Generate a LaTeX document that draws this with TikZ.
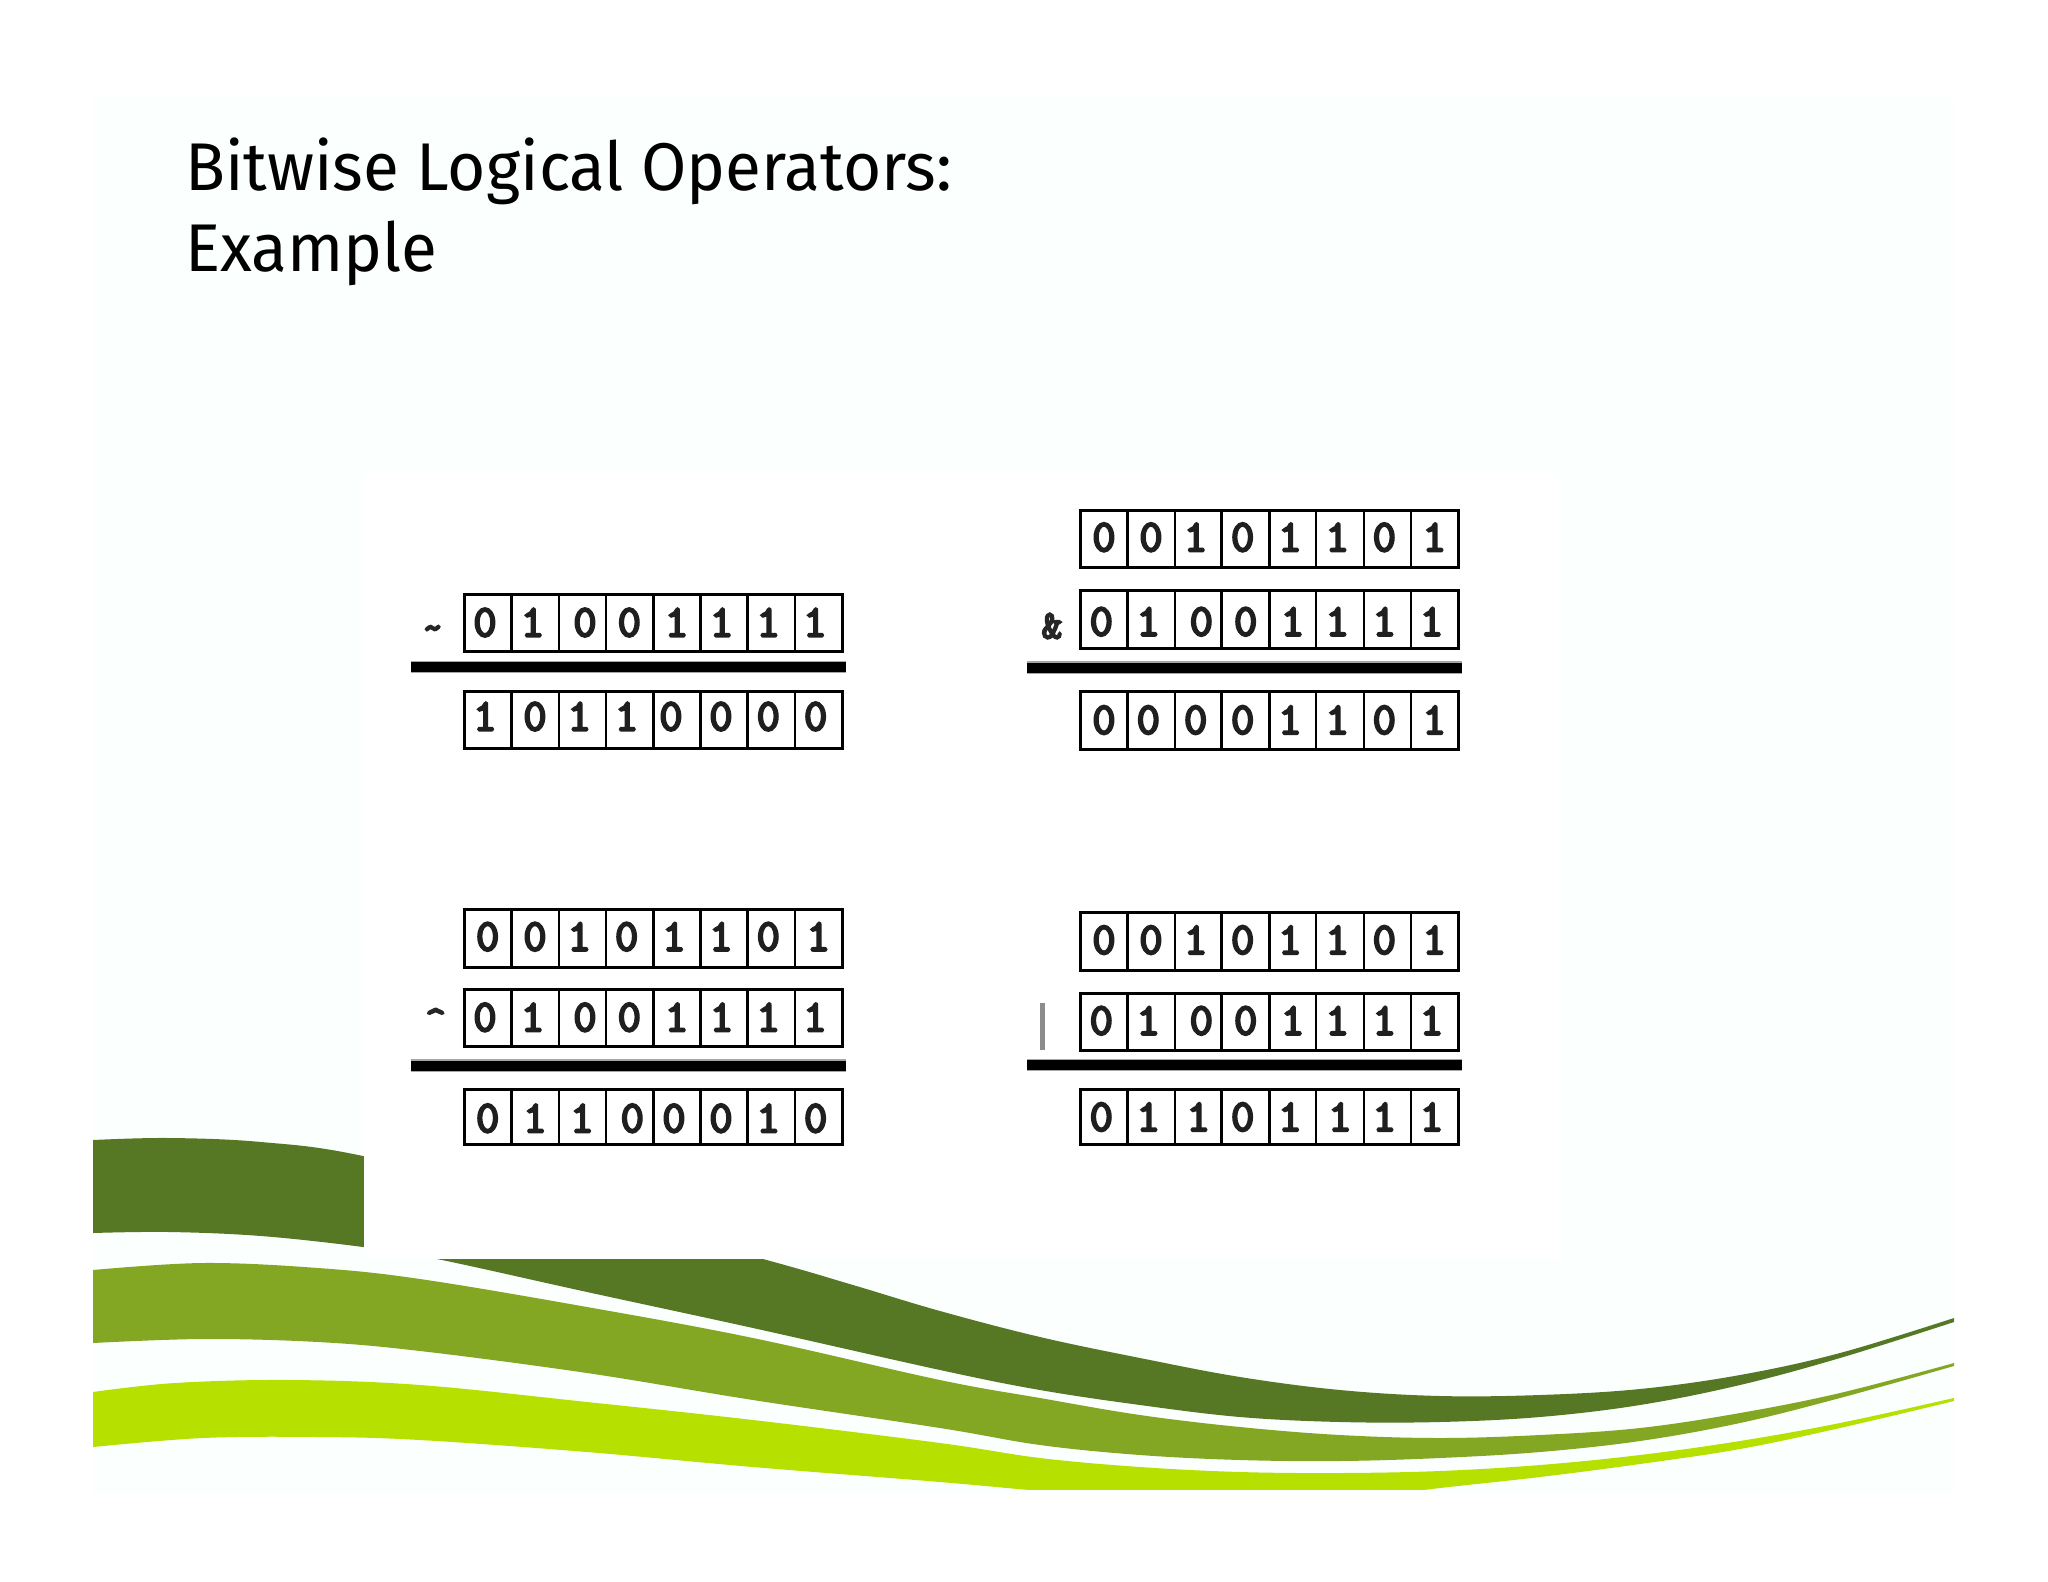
\documentclass[tikz,border=0pt]{standalone}
\usepackage{graphicx}
\usepackage{fontspec}
\newfontfamily\titlefont{Fira Sans}
\newfontfamily\digitfont[FakeBold=5]{Latin Modern Mono}
\definecolor{slidetint}{HTML}{FBFFFE}
\definecolor{banddark}{HTML}{567723}
\definecolor{bandmid}{HTML}{84A723}
\definecolor{bandlight}{HTML}{B5E000}
\tikzset{
  bitbox/.style={draw=black,line width=3pt,fill=white},
  bitdiv/.style={draw=black,line width=2.8pt},
  bitdigit/.style={inner sep=0pt,font=\digitfont\fontsize{45}{45}\selectfont,text=black!88},
  oprule/.style={line width=10pt,draw=black},
  ophalo/.style={line width=12.5pt,draw=black!35},
  opsign/.style={inner sep=0pt,font=\digitfont\fontsize{40}{40}\selectfont,text=black!85},
  titletext/.style={inner sep=0pt,anchor=base west,font=\titlefont\fontsize{67.5}{70}\selectfont,text=black},
  bandcurve/.style={smooth,tension=0.6},
}
% name, x origin, box left px, box right px, top, bottom, digit y, divider px list, digit/px list
\newcommand{\bitrow}[9]{%
  \draw[bitbox] ({#2+#3/3},#5) rectangle ({#2+#4/3},#6);
  \foreach \BRdiv in #8 {\draw[bitdiv] ({#2+\BRdiv/3},#5) -- ({#2+\BRdiv/3},#6);}
  \foreach \BRbit/\BRpos [count=\BRnum] in {#9} {\node[bitdigit] (#1-\BRnum) at ({#2+\BRpos/3},#7) {\BRbit};}
}
\newcommand{\opbar}[3]{%
  \draw[ophalo] (#1,#3) -- (#2,#3);
  \draw[oprule] (#1,#3) -- (#2,#3);
}
\begin{document}
\begin{tikzpicture}[x=1pt,y=-1pt]
\useasboundingbox (0,0) rectangle (2048,1582);
\fill[white] (0,0) rectangle (2048,1582);
\fill[slidetint] (93,97) rectangle (1954,1494);
\begin{scope}
\clip (93,97) rectangle (1954,1489);
\fill[banddark] plot[bandcurve] coordinates {(93,1140) (169,1138) (261,1142) (363,1156) (560,1205) (763,1259) (853,1285) (940,1311) (1040,1337) (1140,1358) (1240,1377) (1340,1390) (1440,1396) (1540,1395) (1640,1389) (1740,1375) (1840,1353) (1954,1318)}
  -- plot[bandcurve] coordinates {(1954,1322) (1840,1358) (1740,1385) (1640,1405) (1540,1417) (1440,1422) (1340,1422) (1240,1417) (1140,1405) (1040,1390) (940,1370) (753,1328) (587,1292) (437,1259) (363,1247) (261,1236) (169,1232) (93,1233)} -- cycle;
\fill[bandmid] plot[bandcurve] coordinates {(93,1270) (203,1263) (318,1268) (420,1279) (587,1307) (753,1338) (940,1380) (1040,1398) (1140,1415) (1240,1427) (1340,1435) (1440,1438) (1540,1435) (1640,1428) (1740,1413) (1840,1393) (1954,1363)}
  -- plot[bandcurve] coordinates {(1954,1366) (1840,1398) (1740,1423) (1640,1441) (1540,1452) (1440,1458) (1340,1461) (1240,1460) (1140,1455) (1040,1445) (940,1428) (753,1400) (587,1373) (420,1351) (318,1342) (203,1339) (93,1343)} -- cycle;
\fill[bandlight] plot[bandcurve] coordinates {(93,1392) (175,1383) (290,1380) (420,1385) (587,1402) (753,1420) (940,1443) (1040,1458) (1140,1467) (1240,1472) (1340,1473) (1440,1471) (1540,1465) (1640,1455) (1740,1441) (1840,1423) (1954,1398)}
  -- plot[bandcurve] coordinates {(1954,1401) (1840,1428) (1740,1449) (1640,1464) (1540,1477) (1440,1488) (1340,1500) (1200,1505) (1040,1491) (940,1482) (753,1467) (587,1452) (420,1440) (318,1437) (203,1438) (93,1447)} -- cycle;
\end{scope}
\fill[white] (364,472) rectangle (1559,1259);

\node[titletext] (title1) at (185,190) {\scalebox{.973}[1]{Bitwise Logical Operators:}};
\node[titletext] (title2) at (185,271.5) {\scalebox{.973}[1]{Example}};

% NOT
\bitrow{na}{380}{253}{1388}{594}{651}{622.5}{{395,537,678,820,962,1103,1245}}{0/315,1/458,0/615,0/748,1/890,1/1025,1/1165,1/1305}
\opbar{411}{846}{667}
\bitrow{nr}{380}{253}{1388}{691.5}{748.5}{716.5}{{395,537,678,820,962,1103,1245}}{1/315,0/465,1/598,1/740,0/873,0/1023,0/1165,0/1307}
\node[opsign] (opnot) at (432.7,633) {\char`\~};

% AND
\bitrow{aa}{1000}{240}{1376}{510}{567.5}{537.3}{{383,525,665,808,948,1092,1233}}{0/312,0/453,1/587,0/728,1/870,1/1012,0/1153,1/1303}
\bitrow{ab}{1000}{240}{1376}{590}{648}{621.7}{{383,525,665,808,948,1092,1233}}{0/304,1/445,0/604,0/737,1/878,1/1012,1/1153,1/1295}
\opbar{1027}{1462}{667.5}
\bitrow{ar}{1000}{240}{1376}{691.5}{749}{720}{{383,525,665,808,948,1092,1233}}{0/312,0/445,0/587,0/728,1/870,1/1012,0/1153,1/1303}
\node[opsign] (opand) at (1052,626) {\&};

% XOR
\bitrow{xa}{380}{253}{1388}{909}{967}{936.7}{{395,537,678,820,962,1103,1245}}{0/323,0/465,1/598,0/740,1/882,1/1023,0/1165,1/1315}
\bitrow{xb}{380}{253}{1388}{989.5}{1046.5}{1017.3}{{395,537,678,820,962,1103,1245}}{0/315,1/458,0/615,0/748,1/890,1/1025,1/1165,1/1305}
\opbar{411}{846}{1065.5}
\bitrow{xr}{380}{253}{1388}{1089.5}{1144}{1118.3}{{395,537,678,820,962,1103,1245}}{0/323,1/465,1/606,0/757,0/882,0/1023,1/1165,0/1307}
\node[opsign] (opxor) at (435.7,1021) {\char`\^};

% OR
\bitrow{oa}{1000}{240}{1376}{912.5}{970}{940}{{383,525,665,808,948,1092,1233}}{0/312,0/453,1/587,0/728,1/870,1/1012,0/1153,1/1303}
\bitrow{ob}{1000}{240}{1376}{993}{1050}{1020.7}{{383,525,665,808,948,1092,1233}}{0/304,1/445,0/604,0/737,1/878,1/1012,1/1153,1/1295}
\opbar{1027}{1462}{1065}
\bitrow{or}{1000}{240}{1376}{1089.5}{1144}{1117}{{383,525,665,808,948,1092,1233}}{0/304,1/445,1/595,0/728,1/870,1/1020,1/1153,1/1295}
\fill[black!45] (1040.2,1003) rectangle (1045.2,1050);
\end{tikzpicture}
\end{document}
